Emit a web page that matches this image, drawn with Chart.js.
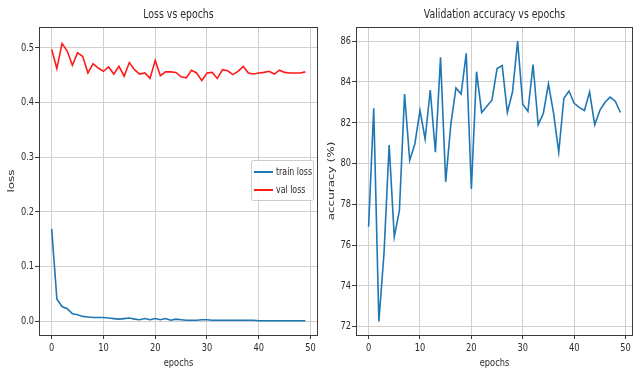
<!DOCTYPE html>
<html>
<head>
<meta charset="utf-8">
<script src="https://cdn.jsdelivr.net/npm/chart.js@4.4.1/dist/chart.umd.min.js"></script>
<style>
  html, body { margin: 0; padding: 0; background: #fff; }
  #wrap { position: relative; width: 634px; height: 371px; overflow: hidden; }
  canvas { position: absolute; top: 0; }
</style>
</head>
<body>
<div id="wrap">
  <canvas id="lossChart" width="320" height="371" style="left:0"></canvas>
  <canvas id="accChart" width="314" height="371" style="left:320px"></canvas>
</div>
<script>
// values
const epochs = [0, 1, 2, 3, 4, 5, 6, 7, 8, 9, 10, 11, 12, 13, 14, 15, 16, 17, 18, 19,
  20, 21, 22, 23, 24, 25, 26, 27, 28, 29, 30, 31, 32, 33, 34, 35, 36, 37, 38, 39,
  40, 41, 42, 43, 44, 45, 46, 47, 48, 49];

const trainLoss = [0.169, 0.041, 0.027, 0.023, 0.014, 0.012, 0.009, 0.008, 0.007, 0.007,
  0.007, 0.006, 0.005, 0.004, 0.005, 0.006, 0.004, 0.003, 0.005, 0.003,
  0.005, 0.003, 0.005, 0.002, 0.004, 0.003, 0.002, 0.002, 0.002, 0.003,
  0.003, 0.002, 0.002, 0.002, 0.002, 0.002, 0.002, 0.002, 0.002, 0.002,
  0.001, 0.001, 0.001, 0.001, 0.001, 0.001, 0.001, 0.001, 0.001, 0.001];

const valLoss = [0.497, 0.462, 0.508, 0.494, 0.468, 0.491, 0.484, 0.454, 0.471, 0.463,
  0.457, 0.465, 0.452, 0.466, 0.448, 0.473, 0.460, 0.452, 0.454, 0.444,
  0.477, 0.449, 0.456, 0.456, 0.455, 0.447, 0.445, 0.459, 0.454, 0.440,
  0.454, 0.455, 0.444, 0.460, 0.458, 0.451, 0.457, 0.466, 0.454, 0.452,
  0.454, 0.455, 0.457, 0.452, 0.459, 0.455, 0.454, 0.454, 0.454, 0.456];

const valAccuracy = [76.9, 82.7, 72.25, 75.6, 80.9, 76.4, 77.7, 83.4, 80.15, 80.95,
  82.6, 81.2, 83.6, 80.55, 85.2, 79.1, 81.9, 83.7, 83.4, 85.4,
  78.75, 84.5, 82.5, 82.8, 83.1, 84.65, 84.8, 82.5, 83.5, 86.0,
  82.9, 82.55, 84.85, 81.9, 82.45, 83.9, 82.45, 80.55, 83.2, 83.55,
  82.95, 82.75, 82.6, 83.5, 81.9, 82.6, 83.0, 83.25, 83.05, 82.5];

const epochTicks = [0, 10, 20, 30, 40, 50];
const epochTickLabels = ['0', '10', '20', '30', '40', '50'];
const lossTicks = [0.0, 0.1, 0.2, 0.3, 0.4, 0.5];
const lossTickLabels = ['0.0', '0.1', '0.2', '0.3', '0.4', '0.5'];
const accTicks = [72, 74, 76, 78, 80, 82, 84, 86];
const accTickLabels = ['72', '74', '76', '78', '80', '82', '84', '86'];

const FONT = "'DejaVu Sans', sans-serif";
const SQUEEZE = 0.75; // the reference image is squashed horizontally
const TEXT = '#2b2b2b';
const BLUE = '#1f77b4';
const RED = '#ff1a1a';

function squeezedText(ctx, text, x, y, align, size, rotate) {
  ctx.save();
  ctx.translate(x, y);
  ctx.scale(SQUEEZE, 1);
  if (rotate) ctx.rotate(-Math.PI / 2);
  ctx.font = size + 'px ' + FONT;
  ctx.textAlign = align;
  ctx.textBaseline = 'middle';
  ctx.fillStyle = TEXT;
  ctx.fillText(text, 0, 0);
  ctx.restore();
}

// matplotlib-ish decorations: frame, title, tick labels, axis labels, legend
const mplDecor = {
  id: 'mplDecor',
  afterDraw(chart, args, opts) {
    const { ctx, chartArea: a, scales } = chart;
    ctx.save();
    ctx.strokeStyle = '#3a3a3a';
    ctx.lineWidth = 1;
    ctx.strokeRect(Math.round(a.left) + 0.5, Math.round(a.top) + 0.5,
      Math.round(a.right - a.left) - 1, Math.round(a.bottom - a.top));
    ctx.restore();

    const cx = (a.left + a.right) / 2;
    squeezedText(ctx, opts.title, cx, 15, 'center', 12.5);

    scales.x.ticks.forEach((t, i) => {
      squeezedText(ctx, epochTickLabels[i], scales.x.getPixelForValue(t.value), a.bottom + 13, 'center', 11);
    });
    scales.y.ticks.forEach((t, i) => {
      squeezedText(ctx, opts.yTickLabels[i], a.left - 5, scales.y.getPixelForValue(t.value), 'right', 11);
    });
    squeezedText(ctx, 'epochs', cx, 363, 'center', 11);
    squeezedText(ctx, opts.yTitle, 12, (a.top + a.bottom) / 2, 'center', 12, true);

    if (opts.legend) {
      const sets = chart.data.datasets;
      const w = 62, rowH = 18;
      const h = sets.length * rowH + 4;
      const x0 = a.right - 5 - w;
      const y0 = opts.legendTop;
      ctx.save();
      ctx.fillStyle = 'rgba(255,255,255,0.85)';
      ctx.strokeStyle = '#cccccc';
      ctx.beginPath();
      ctx.roundRect(x0 + 0.5, y0 + 0.5, w, h, 2);
      ctx.fill();
      ctx.stroke();
      sets.forEach((ds, i) => {
        const yy = y0 + 12 + i * rowH;
        ctx.strokeStyle = ds.borderColor;
        ctx.lineWidth = 2;
        ctx.beginPath();
        ctx.moveTo(x0 + 3, yy);
        ctx.lineTo(x0 + 22, yy);
        ctx.stroke();
        squeezedText(ctx, ds.label, x0 + 25, yy, 'left', 10.5);
      });
      ctx.restore();
    }
  }
};

function toPoints(values) {
  return epochs.map((e, i) => ({ x: e, y: values[i] }));
}

function makeOptions(cfg) {
  return {
    responsive: false,
    animation: false,
    layout: { padding: { top: 27, right: cfg.padRight, left: 0, bottom: 0 } },
    plugins: {
      legend: { display: false },
      tooltip: { enabled: false },
      mplDecor: {
        title: cfg.title, legend: cfg.legend, legendTop: cfg.legendTop,
        yTitle: cfg.yTitle, yTickLabels: cfg.yTickLabels
      }
    },
    elements: { point: { radius: 0 }, line: { tension: 0, borderWidth: 1.6 } },
    scales: {
      x: {
        type: 'linear',
        min: -2.45,
        max: 51.45,
        afterBuildTicks: s => { s.ticks = epochTicks.map(v => ({ value: v })); },
        afterFit: s => { s.height = 36; },
        ticks: { display: false },
        grid: { color: '#cfcfcf', tickColor: '#3a3a3a', tickLength: 4 },
        border: { display: false }
      },
      y: {
        min: cfg.yMin,
        max: cfg.yMax,
        afterBuildTicks: s => { s.ticks = cfg.yTicks.map(v => ({ value: v })); },
        afterFit: s => { s.width = cfg.yWidth; },
        ticks: { display: false },
        grid: { color: '#cfcfcf', tickColor: '#3a3a3a', tickLength: 4 },
        border: { display: false }
      }
    }
  };
}

new Chart(document.getElementById('lossChart'), {
  type: 'line',
  data: {
    datasets: [
      { label: 'train loss', data: toPoints(trainLoss), borderColor: BLUE, backgroundColor: BLUE },
      { label: 'val loss', data: toPoints(valLoss), borderColor: RED, backgroundColor: RED }
    ]
  },
  options: makeOptions({
    title: 'Loss vs epochs', legend: true, legendTop: 160, padRight: 2,
    yMin: -0.025, yMax: 0.538, yTicks: lossTicks, yTickLabels: lossTickLabels,
    yTitle: 'loss', yWidth: 39
  }),
  plugins: [mplDecor]
});

new Chart(document.getElementById('accChart'), {
  type: 'line',
  data: {
    datasets: [
      { label: 'val accuracy', data: toPoints(valAccuracy), borderColor: BLUE, backgroundColor: BLUE }
    ]
  },
  options: makeOptions({
    title: 'Validation accuracy vs epochs', legend: false, padRight: 1,
    yMin: 71.59, yMax: 86.69, yTicks: accTicks, yTickLabels: accTickLabels,
    yTitle: 'accuracy (%)', yWidth: 36
  }),
  plugins: [mplDecor]
});
</script>
</body>
</html>
